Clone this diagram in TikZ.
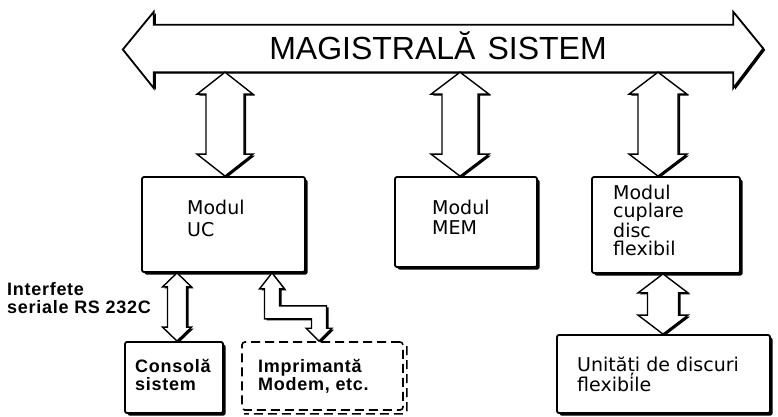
\documentclass[tikz,border=0pt]{standalone}
\usepackage{fontspec}
\setmainfont{DejaVu Sans}
\newfontfamily\busfont{Liberation Sans}
\newfontfamily\modfont{DejaVu Sans}
\newfontfamily\lowfont{Liberation Sans Bold}[LetterSpace=4]
\usetikzlibrary{calc,shadows}
\tikzset{
  shad/.style={drop shadow={shadow xshift=2.5pt, shadow yshift=-2.5pt, fill=black, opacity=1}},
  fshad/.style={drop shadow={shadow xshift=2pt, shadow yshift=-1.5pt, fill=black, opacity=1}},
  box/.style={draw, line width=1.8pt, fill=white, rounded corners=2pt, inner sep=0pt, shad},
  dbox/.style={draw, line width=1.6pt, dash pattern=on 9pt off 5pt, rounded corners=3pt, inner sep=0pt},
  dshadow/.style={line width=1.6pt, dash pattern=on 9pt off 5pt, rounded corners=3pt},
  fat/.style={draw, line width=1.4pt, fill=white, line join=miter, fshad},
  modtxt/.style={anchor=north west, inner sep=0pt, align=left, font=\modfont\fontsize{19}{18}\selectfont},
  boldtxt/.style={anchor=north west, inner sep=0pt, align=left, font=\lowfont\fontsize{18}{18}\selectfont},
}
\newcommand\fatarrow[5]{\draw[fat] let \p1=(#1), \p2=(#2) in
  (\p1) -- (\x1+#3pt,\y1-#5pt) -- (\x1+#4pt,\y1-#5pt) -- (\x1+#4pt,\y2+#5pt) -- (\x1+#3pt,\y2+#5pt)
  -- (\p2) -- (\x1-#3pt,\y2+#5pt) -- (\x1-#4pt,\y2+#5pt) -- (\x1-#4pt,\y1-#5pt) -- (\x1-#3pt,\y1-#5pt) -- cycle;}
\begin{document}
\begin{tikzpicture}[x=1pt,y=-1pt]
\useasboundingbox (0,0) rectangle (778,417);
% bus
\node[minimum width=579pt, minimum height=47pt, inner sep=0pt] (bus) at (443.5,48.5) {};
\draw[fat, line width=1.8pt] (bus.north west) -- ++(0pt,13pt) -- ($(bus.west)+(-31pt,-1pt)$) -- ($(bus.south west)+(0pt,-16pt)$)
  -- (bus.south west) -- (bus.south east) -- ++(0pt,-16pt) -- ($(bus.east)+(30pt,0pt)$)
  -- ($(bus.north east)+(0pt,13pt)$) -- (bus.north east) -- cycle;
\node[anchor=base, inner sep=0pt, font=\busfont\fontsize{32}{32}\selectfont] (bust) at (438,60) {MAGISTRALĂ\hspace{12pt}SISTEM};
% boxes
\node[box, minimum width=163pt, minimum height=95pt] (uc) at (223.5,224.5) {};
\node[box, minimum width=142pt, minimum height=90pt] (mem) at (466,222) {};
\node[box, minimum width=148pt, minimum height=96pt] (cup) at (666,225) {};
\node[box, minimum width=213pt, minimum height=78pt] (unit) at (663.5,374) {};
\node[box, minimum width=98pt, minimum height=71pt] (cons) at (174,377.5) {};
\node[dbox, minimum width=161pt, minimum height=68pt] (imp) at (322.5,376) {};
\draw[dshadow] ($(imp.north east)+(3pt,-5pt)$) -- ($(imp.south east)+(3pt,-3pt)$) -- ($(imp.south west)+(3pt,-3pt)$);
% texts
\node[modtxt] (uct) at (187,200) {Modul\\[4pt]UC};
\node[modtxt] (memt) at (432,200) {Modul\\[2pt]MEM};
\node[modtxt] (cupt) at (613,185) {Modul\\cuplare\\disc\\flexibil};
\node[modtxt] (unitt) at (577,357) {Unități de discuri\\flexibile};
\node[boldtxt] (const) at (135,359) {Consolă\\sistem};
\node[boldtxt] (impt) at (258,359) {Imprimantă\\Modem, etc.};
\node[boldtxt] (lbl) at (7,282) {Interfete\\seriale RS 232C};
% arrows
\coordinate (xa) at (225,0);
\coordinate (xb) at (460,0);
\coordinate (xc) at (658,0);
\coordinate (xd) at (177,0);
\coordinate (xe) at (663,0);
\fatarrow{xa |- bus.south}{xa |- uc.north}{28}{19}{22}
\fatarrow{xb |- bus.south}{xb |- mem.north}{29}{18}{22}
\fatarrow{xc |- bus.south}{xc |- cup.north}{29}{20}{22}
\fatarrow{xd |- uc.south}{xd |- cons.north}{14.5}{9.5}{14}
\fatarrow{xe |- cup.south}{xe |- unit.north}{25}{15.5}{19}
% zigzag arrow
\coordinate (zx) at (272,0);
\coordinate (zb) at (319,0);
\draw[fat] let \p1=(zx |- uc.south), \p2=(zb |- imp.north) in
  (\p1) -- ++(12.5pt,-16pt) -- ++(-5pt,0pt) -- (\x1+7.5pt,\y1-33pt) -- (\x2+7.5pt,\y1-33pt)
  -- (\x2+7.5pt,\y2+13pt) -- ++(5.5pt,0pt) -- (\p2) -- ++(-13pt,13pt) -- ++(5.5pt,0pt)
  -- (\x2-7.5pt,\y1-46pt) -- (\x1-7.5pt,\y1-46pt) -- (\x1-7.5pt,\y1-16pt) -- ++(-5pt,0pt) -- cycle;
\end{tikzpicture}
\end{document}
